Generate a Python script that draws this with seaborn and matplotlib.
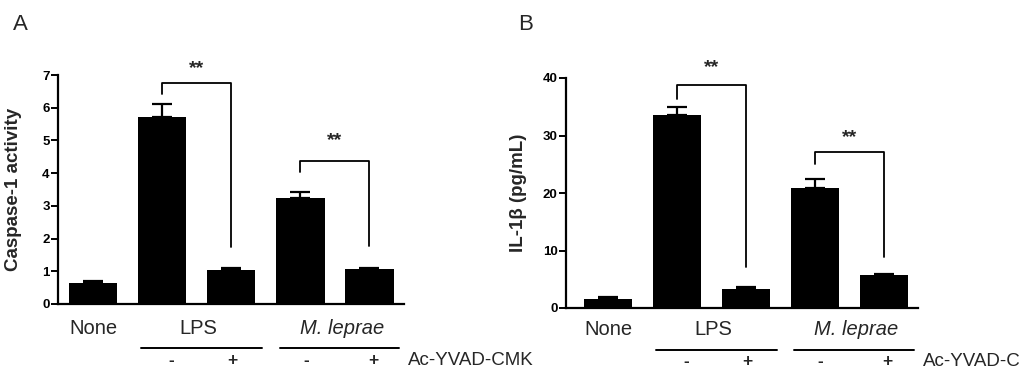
import numpy as np
import pandas as pd
import seaborn as sns
import matplotlib
matplotlib.use("Agg")
import matplotlib.pyplot as plt

# ---------------- data ----------------
conditions = ["None", "LPS -", "LPS +", "M. leprae -", "M. leprae +"]
caspase = [0.64, 5.73, 1.04, 3.25, 1.06]
caspase_err = [0.07, 0.38, 0.06, 0.17, 0.05]
il1b = [1.6, 33.6, 3.3, 20.8, 5.7]
il1b_err = [0.4, 1.3, 0.3, 1.6, 0.2]
group_labels = ["None", "LPS", "M. leprae"]
inhibitor_signs = ["-", "+", "-", "+"]
inhibitor_label_a = "Ac-YVAD-CMK"
inhibitor_label_b = "Ac-YVAD-C"   # shown cut at the right edge in the original
yticks_a = [0, 1, 2, 3, 4, 5, 6, 7]
yticks_b = [0, 10, 20, 30, 40]

sns.set_theme(style="ticks")
plt.rcParams['font.family'] = ['Liberation Sans', 'DejaVu Sans']

W, H = 1022, 371
fig = plt.figure(figsize=(W / 100, H / 100), dpi=100)


def px_axes(l, r, b, t):
    return fig.add_axes([l / W, 1 - b / H, (r - l) / W, (b - t) / H])


ax_a = px_axes(58, 404, 304, 75)
ax_b = px_axes(566, 918, 308, 78)


def draw_panel(ax, vals, errs, ymax, yticks, ylabel, xlim, brackets, stars_y,
               ylab_x, lab_y, line_y, sign_y, inh_label):
    df = pd.DataFrame({"cond": conditions, "val": vals})
    sns.barplot(data=df, x="cond", y="val", order=conditions, color="black",
                width=0.7, saturation=1, errorbar=None, ax=ax,
                edgecolor="black", linewidth=0)
    ax.errorbar(np.arange(len(vals)), vals,
                yerr=[np.zeros(len(vals)), errs], fmt="none",
                ecolor="black", elinewidth=1.6, capsize=7.5, capthick=1.6,
                zorder=3)
    ax.set_ylim(0, ymax)
    ax.set_xlim(*xlim)
    ax.set_yticks(yticks)
    ax.set_yticklabels([str(t) for t in yticks], fontsize=9.5,
                       fontweight="bold")
    ax.set_xticks([])
    ax.set_xlabel("")
    ax.set_ylabel(ylabel, fontsize=13.5, fontweight="bold")
    ax.yaxis.set_label_coords(ylab_x, 0.5)
    for s in ["top", "right"]:
        ax.spines[s].set_visible(False)
    for s in ["left", "bottom"]:
        ax.spines[s].set_linewidth(1.6)
        ax.spines[s].set_color("black")
    ax.tick_params(axis="y", length=5, width=1.4, pad=1, colors="black")
    ax.set_facecolor("white")

    # significance brackets
    for (x0, y0, x1, y1, ytop), sy in zip(brackets, stars_y):
        ax.plot([x0, x0, x1, x1], [y0, ytop, ytop, y1], color="black",
                lw=1.3, clip_on=False, zorder=4)
        ax.text((x0 + x1) / 2, sy, "**", ha="center", va="center",
                fontsize=14, fontweight="bold", clip_on=False)

    tr = ax.get_xaxis_transform()
    # group labels
    ax.text(0, lab_y, group_labels[0], transform=tr, ha="center", va="center",
            fontsize=14.5)
    ax.text(1.53, lab_y, group_labels[1], transform=tr, ha="center",
            va="center", fontsize=14.5)
    ax.text(3.6, lab_y, group_labels[2], transform=tr, ha="center",
            va="center", fontsize=14.5, style="italic")
    ax.plot([0.7, 2.45], [line_y, line_y], transform=tr, color="black",
            lw=1.4, clip_on=False)
    ax.plot([2.7, 4.43], [line_y, line_y], transform=tr, color="black",
            lw=1.4, clip_on=False)
    for xs, s in zip([1.13, 2.02, 3.08, 4.05], inhibitor_signs):
        ax.text(xs, sign_y, s, transform=tr, ha="center", va="center",
                fontsize=12.5, fontweight="bold")
    ax.text(4.56, sign_y, inh_label, transform=tr, ha="left",
            va="center", fontsize=13.5)


draw_panel(ax_a, caspase, caspase_err, 7, yticks_a, "Caspase-1 activity",
           (-0.507, 4.5),
           [(1, 6.41, 2, 1.75, 6.75), (3, 4.03, 4, 1.77, 4.37)],
           [7.2, 5.0], -0.105, -0.105, -0.192, -0.245, inhibitor_label_a)
draw_panel(ax_b, il1b, il1b_err, 40, yticks_b, "IL-1β (pg/mL)",
           (-0.61, 4.49),
           [(1, 36.3, 2, 7.1, 38.7), (3, 25.0, 4, 8.8, 27.2)],
           [41.8, 29.6], -0.11, -0.094, -0.181, -0.232, inhibitor_label_b)

fig.text(13 / W, 1 - 30 / H, "A", fontsize=16, ha="left", va="baseline")
fig.text(518 / W, 1 - 30 / H, "B", fontsize=16, ha="left", va="baseline")

fig.savefig("out.png", dpi=100, facecolor="white")
